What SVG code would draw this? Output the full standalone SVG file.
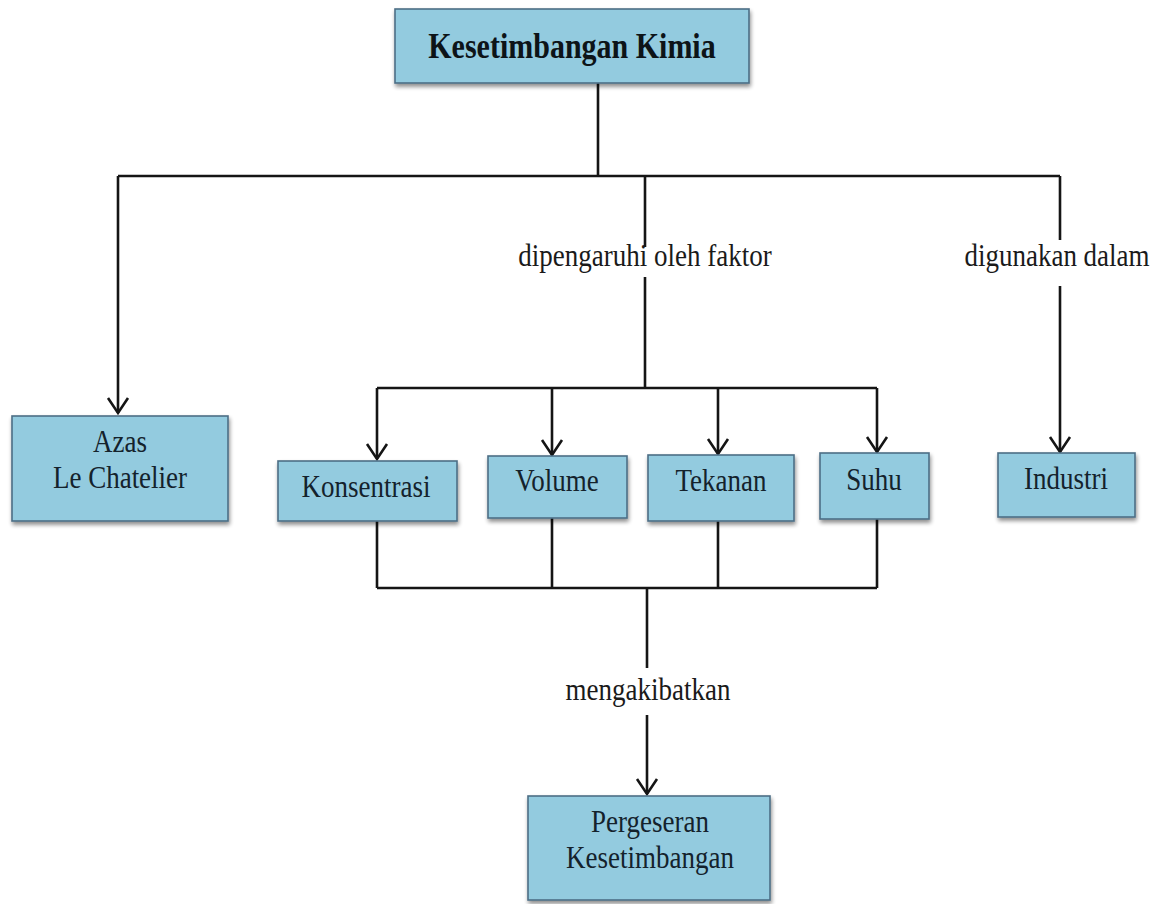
<svg xmlns="http://www.w3.org/2000/svg" width="1153" height="904" viewBox="0 0 1153 904">
<style>
.box{fill:#93cbdf;stroke:#4d6e86;stroke-width:1.6;filter:url(#sh)}
.t{font-family:"Liberation Serif","Times New Roman",serif;font-size:27px;fill:#14222c;text-anchor:middle}
.tb{font-weight:bold;font-size:30px;fill:#0d1418}
.lbl{fill:#1a1a1a}
.ln{fill:none;stroke:#151515;stroke-width:2.6}
</style>
<defs>
<filter id="sh" x="-10%" y="-10%" width="125%" height="135%">
<feGaussianBlur in="SourceAlpha" stdDeviation="2"/>
<feOffset dx="1" dy="3" result="b"/>
<feComponentTransfer><feFuncA type="linear" slope="0.45"/></feComponentTransfer>
<feMerge><feMergeNode/><feMergeNode in="SourceGraphic"/></feMerge>
</filter>
<marker id="ar" viewBox="-20 -13 23 26" refX="0" refY="0" markerWidth="23" markerHeight="26" markerUnits="userSpaceOnUse" orient="auto">
<path d="M-15,-10 L0,0 L-15,10" fill="none" stroke="#151515" stroke-width="2.6"/>
</marker>
</defs>
<rect width="1153" height="904" fill="#ffffff"/>
<g id="connectors">
<path class="ln" d="M598 83 V176 M118 176 H1060 M645 176 V247 M645 277 V388 M377 388 H877 M1060 176 V240"/>
<path class="ln" d="M118 176 V413" marker-end="url(#ar)"/>
<path class="ln" d="M377 388 V459" marker-end="url(#ar)"/>
<path class="ln" d="M552 388 V455" marker-end="url(#ar)"/>
<path class="ln" d="M718 388 V454" marker-end="url(#ar)"/>
<path class="ln" d="M877 388 V452" marker-end="url(#ar)"/>
<path class="ln" d="M1060 286 V452" marker-end="url(#ar)"/>
<path class="ln" d="M377 521 V588 M552 518 V588 M718 521 V588 M877 519 V588 M377 588 H877 M647 588 V668"/>
<path class="ln" d="M647 715 V794" marker-end="url(#ar)"/>
<text class="t lbl" transform="translate(645,266) scale(1,1.2)">dipengaruhi oleh faktor</text>
<text class="t lbl" transform="translate(1057,266) scale(1,1.2)">digunakan dalam</text>
<text class="t lbl" transform="translate(648,700) scale(1,1.2)">mengakibatkan</text>
</g>
<g id="kesetimbangan-kimia">
<rect class="box" x="395" y="9" width="354" height="74"/>
<text class="t tb" transform="translate(572,58) scale(1,1.2)">Kesetimbangan Kimia</text>
</g>
<g id="azas-le-chatelier">
<rect class="box" x="12" y="416" width="216" height="105"/>
<text class="t" transform="translate(120,452) scale(1,1.2)">Azas</text>
<text class="t" transform="translate(120,488) scale(1,1.2)">Le Chatelier</text>
</g>
<g id="konsentrasi">
<rect class="box" x="278" y="461" width="179" height="60"/>
<text class="t" transform="translate(366,497) scale(1,1.2)">Konsentrasi</text>
</g>
<g id="volume">
<rect class="box" x="488" y="456" width="139" height="62"/>
<text class="t" transform="translate(557,491) scale(1,1.2)">Volume</text>
</g>
<g id="tekanan">
<rect class="box" x="648" y="455" width="146" height="66"/>
<text class="t" transform="translate(721,491) scale(1,1.2)">Tekanan</text>
</g>
<g id="suhu">
<rect class="box" x="820" y="453" width="109" height="66"/>
<text class="t" transform="translate(874,490) scale(1,1.2)">Suhu</text>
</g>
<g id="industri">
<rect class="box" x="998" y="453" width="137" height="64"/>
<text class="t" transform="translate(1066,489) scale(1,1.2)">Industri</text>
</g>
<g id="pergeseran-kesetimbangan">
<rect class="box" x="528" y="796" width="242" height="104"/>
<text class="t" transform="translate(650,832) scale(1,1.2)">Pergeseran</text>
<text class="t" transform="translate(650,868) scale(1,1.2)">Kesetimbangan</text>
</g>
</svg>
